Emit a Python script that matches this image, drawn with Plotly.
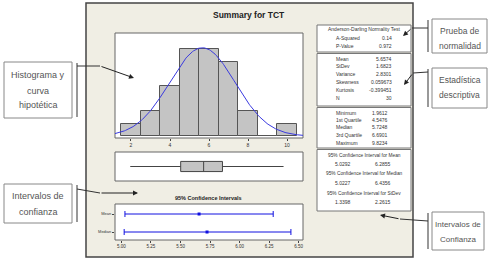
import numpy as np
import plotly.graph_objects as go

W, H = 504, 261

# ---------------- data ----------------
bin_centers = [2, 3, 4, 5, 6, 7, 8, 9, 10]
bin_counts = [1, 2, 4, 7, 7, 6, 2, 0, 1]

mean_val = 5.6574
sd_val = 1.6823
n_obs = 30

box_min = 1.9612
box_q1 = 4.5476
box_median = 5.7248
box_q3 = 6.6901
box_max = 9.8234

ci_labels = ["Mean", "Median"]
ci_est = [5.6574, 5.7248]
ci_low = [5.0292, 5.0227]
ci_high = [6.2855, 6.4356]

hist_ticks = [2, 4, 6, 8, 10]
ci_ticks = [5.00, 5.25, 5.50, 5.75, 6.00, 6.25, 6.50]
ci_ticktext = ["5.00", "5.25", "5.50", "5.75", "6.00", "6.25", "6.50"]

ad_rows = [("A-Squared", "0.14"), ("P-Value", "0.972")]
desc_rows = [("Mean", "5.6574"), ("StDev", "1.6823"), ("Variance", "2.8301"),
             ("Skewness", "0.059673"), ("Kurtosis", "-0.399451"), ("N", "30")]
quart_rows = [("Minimum", "1.9612"), ("1st Quartile", "4.5476"), ("Median", "5.7248"),
              ("3rd Quartile", "6.6901"), ("Maximum", "9.8234")]
ci_rows = [("95% Confidence Interval for Mean", "5.0292", "6.2855"),
           ("95% Confidence Interval for Median", "5.0227", "6.4356"),
           ("95% Confidence Interval for StDev", "1.3398", "2.2615")]

# ---------------- helpers ----------------
def px(x):
    return x / W

def py(y):
    return 1 - y / H

FONT = "Liberation Sans, Arial, sans-serif"
BEIGE = "#F0EEE4"

fig = go.Figure()
shapes = []
annots = []

def rect(x0, y0, x1, y1, fill, line="#777", lw=1, layer="below"):
    shapes.append(dict(type="rect", xref="paper", yref="paper",
                       x0=px(x0), x1=px(x1), y0=py(y1), y1=py(y0),
                       fillcolor=fill, line=dict(color=line, width=lw), layer=layer))

def seg(x0, y0, x1, y1, color="#333", lw=1, layer="above"):
    shapes.append(dict(type="line", xref="paper", yref="paper",
                       x0=px(x0), x1=px(x1), y0=py(y0), y1=py(y1),
                       line=dict(color=color, width=lw), layer=layer))

def text(x, y, s, size=5.5, anchor="center", color="#333", family=FONT, bold=False):
    if bold:
        s = "<b>" + s + "</b>"
    annots.append(dict(x=px(x), y=py(y), xref="paper", yref="paper", text=s,
                       showarrow=False, xanchor=anchor, yanchor="middle",
                       font=dict(size=size, color=color, family=family)))

def arrow(x0, y0, x1, y1):
    annots.append(dict(x=px(x1), y=py(y1), xref="paper", yref="paper", text="",
                       showarrow=True, ax=x0 - x1, ay=y0 - y1, axref="pixel", ayref="pixel",
                       arrowhead=2, arrowsize=1, arrowwidth=1, arrowcolor="#222"))

# ---------------- window frame ----------------
rect(86, 3, 413, 257, BEIGE, line="#444", lw=1.5)

# data regions
HX0, HX1 = 115, 303
rect(HX0, 33, HX1, 138, "white", line="#666")
rect(HX0, 152, HX1, 181, "white", line="#666")
rect(HX0, 204, HX1, 240, "white", line="#666")

# ---------------- histogram ----------------
fig.add_trace(go.Bar(x=bin_centers, y=bin_counts, width=1,
                     marker=dict(color="#C4C4C4", line=dict(color="#555", width=1)),
                     xaxis="x", yaxis="y", showlegend=False))
xs = np.linspace(1.18, 10.82, 200)
ys = n_obs * 1.0 / (sd_val * np.sqrt(2 * np.pi)) * np.exp(-0.5 * ((xs - mean_val) / sd_val) ** 2)
fig.add_trace(go.Scatter(x=xs, y=ys, mode="lines", line=dict(color="#3A3AE0", width=1),
                         xaxis="x", yaxis="y", showlegend=False))

# ---------------- boxplot ----------------
fig.add_trace(go.Box(y=[0], q1=[box_q1], median=[box_median], q3=[box_q3],
                     lowerfence=[box_min], upperfence=[box_max], orientation="h",
                     width=0.7, whiskerwidth=0, fillcolor="#C4C4C4",
                     line=dict(color="#444", width=1), boxpoints=False,
                     xaxis="x2", yaxis="y2", showlegend=False))

# ---------------- CI plot ----------------
ci_y = [1, 0]
fig.add_trace(go.Scatter(x=ci_est, y=ci_y, mode="markers",
                         marker=dict(symbol="square", size=3, color="#1010E0"),
                         error_x=dict(type="data", symmetric=False,
                                      array=[h - e for h, e in zip(ci_high, ci_est)],
                                      arrayminus=[e - l for e, l in zip(ci_est, ci_low)],
                                      color="#1010E0", thickness=1, width=3),
                         xaxis="x3", yaxis="y3", showlegend=False))

hist_range = [1.18, 10.82]
ax_common = dict(showgrid=False, zeroline=False, showline=False)
fig.update_layout(
    xaxis=dict(domain=[px(HX0), px(HX1)], range=hist_range, tickvals=hist_ticks,
               ticks="outside", ticklen=2, tickcolor="#444", tickfont=dict(size=5, family=FONT, color="#333"),
               anchor="y", **ax_common),
    yaxis=dict(domain=[py(138), py(33)], range=[-0.15, 8.3], showticklabels=False,
               anchor="x", **ax_common),
    xaxis2=dict(domain=[px(HX0), px(HX1)], range=hist_range, showticklabels=False,
                anchor="y2", **ax_common),
    yaxis2=dict(domain=[py(181), py(152)], range=[-1, 1], showticklabels=False,
                anchor="x2", **ax_common),
    xaxis3=dict(domain=[px(HX0), px(HX1)], range=[4.945, 6.538], tickvals=ci_ticks,
                ticktext=ci_ticktext, ticks="outside", ticklen=2, tickcolor="#444",
                tickfont=dict(size=4.5, family=FONT, color="#333"), anchor="y3", **ax_common),
    yaxis3=dict(domain=[py(240), py(204)], range=[-0.444, 1.556], tickvals=ci_y,
                ticktext=ci_labels, ticks="outside", ticklen=2, tickcolor="#444",
                tickfont=dict(size=4, family=FONT, color="#333"), anchor="x3", **ax_common),
)

# titles
text(249, 15, "Summary for TCT", size=8.5, bold=True, color="#222")
text(208, 198, "95% Confidence Intervals", size=5.5, bold=True, color="#222")

# ---------------- stats panel ----------------
SX0, SX1 = 317, 411
rect(SX0, 25, SX1, 52, "white", line="#777")
rect(SX0, 53.5, SX1, 106, "white", line="#777")
rect(SX0, 107.5, SX1, 148, "white", line="#777")
rect(SX0, 149.5, SX1, 211, "white", line="#777")

LBL_X, VAL_X = 334, 394
SZ = 5.0
text(364, 29.5, "Anderson-Darling Normality Test", size=SZ, anchor="center")
for (lab, val), yy in zip(ad_rows, [38, 45.5]):
    text(LBL_X, yy, lab, size=SZ, anchor="left")
    text(VAL_X, yy, val, size=SZ, anchor="right")
for (lab, val), yy in zip(desc_rows, [59, 66.5, 74, 82, 90, 97.5]):
    text(LBL_X, yy, lab, size=SZ, anchor="left")
    text(VAL_X, yy, val, size=SZ, anchor="right")
for (lab, val), yy in zip(quart_rows, [112.5, 119.5, 127, 135, 142.5]):
    text(LBL_X, yy, lab, size=SZ, anchor="left")
    text(VAL_X - 4, yy, val, size=SZ, anchor="right")
for (lab, lo, hi), (y1, y2) in zip(ci_rows, [(155, 164), (173, 183), (193, 202)]):
    text(364, y1, lab, size=4.8, anchor="center")
    text(343, y2, lo, size=SZ, anchor="center")
    text(383, y2, hi, size=SZ, anchor="center")

# ---------------- callout boxes ----------------
GREY_TXT = "#555"
def callout(x0, y0, x1, y1, lines, ys, barx, size=9):
    rect(x0, y0, x1, y1, "white", line="#888", lw=1, layer="above")
    for s, yy in zip(lines, ys):
        text((x0 + x1) / 2, yy, s, size=size, color=GREY_TXT)
    seg(barx, y0 + 1, barx, y1 - 1, color="#777", lw=1.5)

callout(4, 62, 72, 118, ["Histograma y", "curva", "hipotética"], [75, 91, 105], 77, size=9)
callout(4, 184, 72, 223, ["Intervalos de", "confianza"], [196, 212], 77, size=9)
callout(432, 19, 487, 53, ["Prueba de", "normalidad"], [31, 46], 428, size=8.5)
callout(432, 68, 487, 108, ["Estadística", "descriptiva"], [80, 95], 428, size=8.5)
callout(432, 212, 484, 250, ["Intervalos de", "Confianza"], [224, 239], 428, size=8)

# connectors + arrows
seg(77, 66, 100, 66)
arrow(100, 66, 134, 78)
seg(77, 189, 100, 193)
arrow(100, 193, 138, 193)
seg(428, 28, 412, 28)
arrow(412, 28, 403, 36)
seg(428, 72, 413, 73)
arrow(413, 73, 404, 85)
seg(428, 221, 400, 219)
arrow(400, 219, 380, 215)

fig.update_layout(width=W, height=H, margin=dict(l=0, r=0, t=0, b=0),
                  paper_bgcolor="white", plot_bgcolor="rgba(0,0,0,0)",
                  shapes=shapes, annotations=annots, bargap=0)

fig.write_html("out.html")
